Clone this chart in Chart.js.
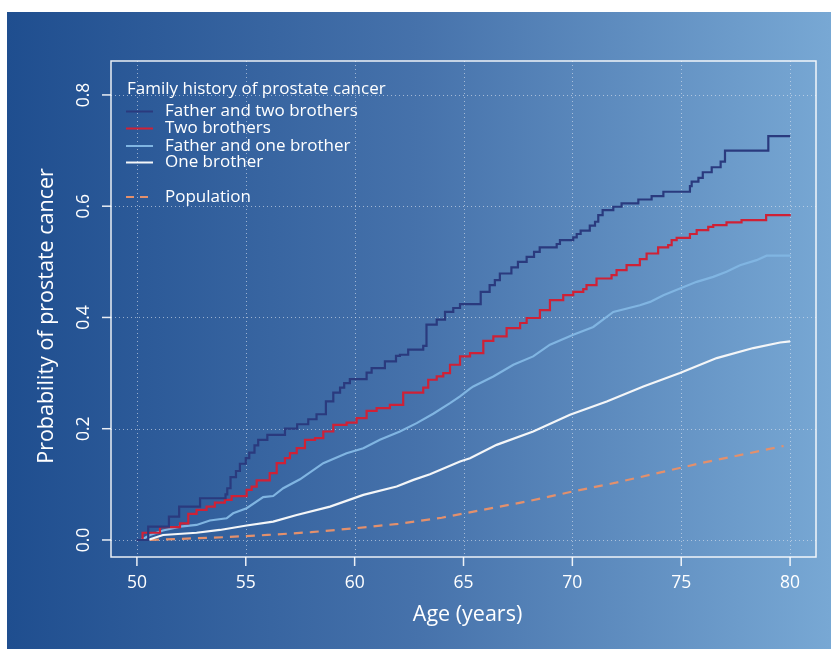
<!DOCTYPE html>
<html>
<head>
<meta charset="utf-8">
<script src="https://cdn.jsdelivr.net/npm/chart.js@4"></script>
<style>
  html, body { margin: 0; padding: 0; background: #fff; }
  canvas { display: block; }
</style>
</head>
<body>
<canvas id="chart" width="831" height="649"></canvas>
<script>
// data (age in years, cumulative probability)
const xTicks = [50, 55, 60, 65, 70, 75, 80];
const yTicks = [0, 0.2, 0.4, 0.6, 0.8];
const yTickLabels = ['0.0', '0.2', '0.4', '0.6', '0.8'];

const legendTitle = 'Family history of prostate cancer';
const seriesNames = ['Father and two brothers', 'Two brothers', 'Father and one brother', 'One brother', 'Population'];

const ftAges = [50, 50.52, 51.47, 51.94, 52.9, 54.07, 54.15, 54.3, 54.55, 54.73, 55.0, 55.16, 55.4, 55.57, 55.99, 56.8,
  57.36, 57.87, 58.25, 58.68, 59.02, 59.33, 59.52, 59.78, 60.55, 60.78, 61.39, 61.9, 62.08, 62.46, 63.15, 63.3, 63.77,
  64.15, 64.53, 64.84, 65.79, 66.2, 66.44, 66.67, 67.2, 67.5, 67.9, 68.24, 68.5, 69.28, 69.43, 70.04, 70.2, 70.38,
  70.8, 71.04, 71.19, 71.39, 71.88, 72.26, 73.03, 73.64, 74.18, 75.4, 75.48, 75.79, 75.99, 76.4, 76.81, 77.01, 79.0, 80.0];
const ftProb = [0, 0.024, 0.042, 0.06, 0.075, 0.082, 0.093, 0.113, 0.124, 0.137, 0.147, 0.157, 0.17, 0.18, 0.189, 0.2,
  0.208, 0.217, 0.226, 0.249, 0.265, 0.274, 0.282, 0.289, 0.301, 0.309, 0.321, 0.331, 0.333, 0.342, 0.349, 0.387, 0.396,
  0.41, 0.417, 0.424, 0.446, 0.458, 0.467, 0.479, 0.49, 0.5, 0.509, 0.518, 0.526, 0.532, 0.539, 0.544, 0.55, 0.556,
  0.565, 0.572, 0.584, 0.593, 0.599, 0.605, 0.612, 0.618, 0.626, 0.636, 0.644, 0.651, 0.661, 0.67, 0.68, 0.7, 0.726, 0.726];

const tbAges = [50, 50.26, 51.06, 51.98, 52.36, 52.74, 53.2, 53.58, 54.04, 54.35, 55.04, 55.27, 55.5, 56.1, 56.42, 56.8,
  57.03, 57.34, 57.72, 58.18, 58.56, 59.02, 59.63, 60.09, 60.55, 61.01, 61.62, 62.23, 63.15, 63.38, 63.77, 64.07, 64.38,
  64.84, 65.3, 65.91, 66.37, 66.98, 67.6, 67.9, 68.51, 68.97, 69.58, 70.04, 70.5, 70.65, 71.11, 71.8, 72.03, 72.49, 73.1,
  73.41, 73.94, 74.4, 74.56, 74.79, 75.4, 75.71, 76.24, 76.47, 77.08, 77.77, 78.9, 80.03];
const tbProb = [0, 0.013, 0.023, 0.03, 0.047, 0.054, 0.06, 0.067, 0.072, 0.079, 0.09, 0.096, 0.107, 0.12, 0.138, 0.147,
  0.156, 0.165, 0.18, 0.183, 0.195, 0.207, 0.211, 0.219, 0.232, 0.237, 0.243, 0.265, 0.274, 0.288, 0.294, 0.3, 0.315,
  0.33, 0.336, 0.358, 0.366, 0.381, 0.39, 0.399, 0.413, 0.431, 0.44, 0.446, 0.451, 0.458, 0.47, 0.476, 0.485, 0.494, 0.505,
  0.515, 0.526, 0.53, 0.539, 0.543, 0.55, 0.557, 0.563, 0.566, 0.571, 0.575, 0.584, 0.584];

const foAges = [50.2, 50.6, 51.2, 51.98, 52.74, 53.35, 54.12, 54.42, 55.04, 55.8, 56.26, 56.72, 57.49, 58.56, 59.63,
  60.4, 61.16, 62.08, 62.85, 63.61, 64.38, 64.84, 65.3, 65.45, 66.37, 67.29, 68.2, 68.97, 70.04, 70.96, 71.88, 73.1,
  73.57, 74.18, 74.94, 75.71, 76.47, 77.08, 77.7, 78.46, 78.92, 80.03];
const foProb = [0, 0.009, 0.017, 0.024, 0.027, 0.035, 0.039, 0.048, 0.057, 0.077, 0.079, 0.093, 0.109, 0.138, 0.156,
  0.165, 0.18, 0.195, 0.21, 0.227, 0.246, 0.258, 0.272, 0.276, 0.294, 0.315, 0.33, 0.351, 0.369, 0.383, 0.41, 0.422,
  0.428, 0.44, 0.452, 0.464, 0.473, 0.482, 0.494, 0.503, 0.511, 0.511];

const obAges = [50.5, 51.2, 52.74, 53.81, 55.04, 56.26, 57.34, 58.87, 60.4, 61.93, 62.7, 63.46, 64.84, 65.3, 66.52,
  68.2, 69.89, 71.58, 73.26, 74.94, 76.63, 78.31, 79.54, 80.0];
const obProb = [0, 0.009, 0.013, 0.018, 0.026, 0.033, 0.045, 0.06, 0.081, 0.096, 0.108, 0.118, 0.141, 0.147, 0.171,
  0.195, 0.225, 0.249, 0.276, 0.3, 0.327, 0.345, 0.355, 0.357];

const popAges = [50.6, 52, 54, 56, 58, 60, 62, 64, 66, 68, 70, 72, 74, 76, 78, 79.7];
const popProb = [0, 0.002, 0.005, 0.009, 0.014, 0.021, 0.029, 0.04, 0.055, 0.07, 0.087, 0.103, 0.121, 0.139, 0.155, 0.169];

const colors = ['#2a3a7e', '#cf2136', '#80b5e2', '#f4f6f8', '#e3906c'];

function pts(xs, ys) {
  return xs.map((x, i) => ({ x: x, y: ys[i] }));
}

const FONT = '"Open Sans", "DejaVu Sans", sans-serif';

const decor = {
  id: 'decor',
  beforeDraw(chart) {
    const ctx = chart.ctx;
    ctx.save();
    ctx.fillStyle = '#ffffff';
    ctx.fillRect(0, 0, chart.width, chart.height);
    const g = ctx.createLinearGradient(7, 0, chart.width, 0);
    g.addColorStop(0, '#1f4e8f');
    g.addColorStop(0.5, '#4672ab');
    g.addColorStop(1, '#78a8d4');
    ctx.fillStyle = g;
    ctx.fillRect(7, 12, chart.width - 7, chart.height - 12);
    ctx.restore();
  },
  beforeDatasetsDraw(chart) {
    const ctx = chart.ctx;
    const a = chart.chartArea;
    const xs = chart.scales.x, ys = chart.scales.y;
    ctx.save();
    ctx.strokeStyle = 'rgba(225,230,240,0.6)';
    ctx.lineWidth = 1;
    ctx.setLineDash([1, 3]);
    xTicks.forEach(v => {
      const px = Math.round(xs.getPixelForValue(v)) + 0.5;
      ctx.beginPath(); ctx.moveTo(px, a.top); ctx.lineTo(px, a.bottom); ctx.stroke();
    });
    yTicks.forEach(v => {
      const py = Math.round(ys.getPixelForValue(v)) + 0.5;
      ctx.beginPath(); ctx.moveTo(a.left, py); ctx.lineTo(a.right, py); ctx.stroke();
    });
    ctx.restore();
  },
  afterDraw(chart) {
    const ctx = chart.ctx;
    const a = chart.chartArea;
    const xs = chart.scales.x, ys = chart.scales.y;
    ctx.save();
    // plot box
    ctx.strokeStyle = 'rgba(255,255,255,0.9)';
    ctx.lineWidth = 1.5;
    ctx.strokeRect(a.left, a.top, a.right - a.left, a.bottom - a.top);
    // tick marks
    ctx.lineWidth = 1.5;
    xTicks.forEach(v => {
      const px = xs.getPixelForValue(v);
      ctx.beginPath(); ctx.moveTo(px, a.bottom); ctx.lineTo(px, a.bottom + 9); ctx.stroke();
    });
    yTicks.forEach(v => {
      const py = ys.getPixelForValue(v);
      ctx.beginPath(); ctx.moveTo(a.left, py); ctx.lineTo(a.left - 9, py); ctx.stroke();
    });
    // tick labels
    ctx.fillStyle = '#ffffff';
    ctx.font = '17.5px ' + FONT;
    ctx.textAlign = 'center';
    ctx.textBaseline = 'middle';
    xTicks.forEach(v => {
      ctx.fillText(String(v), xs.getPixelForValue(v), a.bottom + 26);
    });
    yTicks.forEach((v, i) => {
      ctx.save();
      ctx.translate(a.left - 27, ys.getPixelForValue(v));
      ctx.rotate(-Math.PI / 2);
      ctx.fillText(yTickLabels[i], 0, 0);
      ctx.restore();
    });
    // axis titles
    ctx.font = '21.5px ' + FONT;
    ctx.fillText('Age (years)', (a.left + a.right) / 2 + 4, a.bottom + 58);
    ctx.save();
    ctx.translate(47, (a.top + a.bottom) / 2 + 7);
    ctx.rotate(-Math.PI / 2);
    ctx.fillText('Probability of prostate cancer', 0, 0);
    ctx.restore();
    // legend
    ctx.textAlign = 'left';
    ctx.font = '17px ' + FONT;
    ctx.fillText(legendTitle, 127, 89);
    const rowY = [111.5, 128.5, 146, 162.5, 197];
    seriesNames.forEach((name, i) => {
      ctx.strokeStyle = colors[i];
      ctx.lineWidth = 2;
      ctx.setLineDash(i === 4 ? [8, 6] : []);
      ctx.beginPath(); ctx.moveTo(126, rowY[i]); ctx.lineTo(153, rowY[i]); ctx.stroke();
      ctx.fillText(name, 165, rowY[i]);
    });
    ctx.restore();
  }
};

new Chart(document.getElementById('chart').getContext('2d'), {
  type: 'line',
  data: {
    datasets: [
      { label: seriesNames[0], data: pts(ftAges, ftProb), borderColor: colors[0], stepped: true },
      { label: seriesNames[1], data: pts(tbAges, tbProb), borderColor: colors[1], stepped: true },
      { label: seriesNames[2], data: pts(foAges, foProb), borderColor: colors[2] },
      { label: seriesNames[3], data: pts(obAges, obProb), borderColor: colors[3] },
      { label: seriesNames[4], data: pts(popAges, popProb), borderColor: colors[4], borderDash: [9, 7] }
    ]
  },
  options: {
    responsive: false,
    animation: false,
    events: [],
    layout: { padding: { left: 111, top: 61, right: 15, bottom: 92 } },
    elements: {
      point: { radius: 0 },
      line: { borderWidth: 2.2, tension: 0, fill: false }
    },
    plugins: {
      legend: { display: false },
      tooltip: { enabled: false }
    },
    scales: {
      x: {
        type: 'linear',
        min: 48.81, max: 81.19,
        ticks: { display: false },
        grid: { display: false, drawTicks: false },
        border: { display: false }
      },
      y: {
        type: 'linear',
        min: -0.0306, max: 0.861,
        ticks: { display: false },
        grid: { display: false, drawTicks: false },
        border: { display: false }
      }
    }
  },
  plugins: [decor]
});
</script>
</body>
</html>
